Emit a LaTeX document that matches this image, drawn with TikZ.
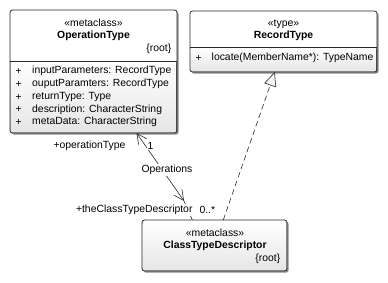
\documentclass[tikz,border=0pt]{standalone}
\usepackage{fontspec}
\setmainfont{Liberation Sans}
\usetikzlibrary{arrows.meta,shadows,positioning}

\definecolor{tricream}{RGB}{252,246,236}
\definecolor{boxedge}{RGB}{40,40,40}

\tikzset{
  umlbox/.style={rectangle, rounded corners=2.5pt, fill=white, inner sep=0pt, outer sep=0pt, anchor=north west,
    drop shadow={shadow xshift=1.6pt, shadow yshift=-1.6pt, fill=black, opacity=0.45}},
  boxline/.style={draw=boxedge, line width=0.8pt, rounded corners=2.5pt},
  sepline/.style={draw=boxedge, line width=0.7pt},
  compfill/.style={top color=white, bottom color=black!10, rounded corners=2pt},
  txt/.style={font=\fontsize{10.4}{12}\selectfont, inner sep=0pt},
  stereo/.style={txt},
  cname/.style={txt, font=\fontsize{10.4}{12}\selectfont\bfseries},
  member/.style={txt, anchor=west},
  endlabel/.style={txt, fill=white, inner sep=0.8pt},
  assoc/.style={draw=boxedge, line width=0.6pt},
  navtip/.tip={Straight Barb[length=10pt,width=10pt]},
  realize/.style={draw=boxedge, line width=0.6pt, dash pattern=on 5.5pt off 3.5pt,
    -{Triangle[length=14pt,width=12.5pt,fill=tricream]}}
}

\begin{document}
\begin{tikzpicture}[x=1pt,y=-1pt]
\useasboundingbox (0,0) rectangle (388,282);

% OperationType
\node[umlbox, minimum width=167pt, minimum height=123pt] (optype) at (10,10) {};
\fill[compfill] (10.4,61) rectangle (176.6,132.6);
\draw[boxline] (optype.north west) rectangle (optype.south east);
\draw[sepline] (10,61) -- (177,61);
\node[stereo] (optype-st) at (93.5,23) {«metaclass»};
\node[cname] (optype-nm) at (93.5,35.5) {OperationType};
\node[txt, anchor=east] (optype-rt) at (171.5,49) {\{root\}};
\node[member] (optype-p1) at (15.5,71) {+};
\node[member] (optype-a1) at (32,71) {inputParameters: RecordType};
\node[member] (optype-p2) at (15.5,84) {+};
\node[member] (optype-a2) at (32,84) {ouputParamters: RecordType};
\node[member] (optype-p3) at (15.5,97) {+};
\node[member] (optype-a3) at (32,97) {returnType: Type};
\node[member] (optype-p4) at (15.5,109.5) {+};
\node[member] (optype-a4) at (32,109.5) {description: CharacterString};
\node[member] (optype-p5) at (15.5,122) {+};
\node[member] (optype-a5) at (32,122) {metaData: CharacterString};

% RecordType
\node[umlbox, minimum width=187pt, minimum height=61pt] (rectype) at (190,11) {};
\fill[compfill] (190.4,47) rectangle (376.6,71.6);
\draw[boxline] (rectype.north west) rectangle (rectype.south east);
\draw[sepline] (190,47) -- (377,47);
\node[stereo] (rectype-st) at (283.5,24) {«type»};
\node[cname] (rectype-nm) at (283.5,36) {RecordType};
\node[member] (rectype-p1) at (195.5,58) {+};
\node[member] (rectype-o1) at (211.5,58) {locate(MemberName*): TypeName};

% ClassTypeDescriptor
\node[umlbox, minimum width=145pt, minimum height=51pt] (ctd) at (142,220) {};
\fill[compfill] (142.4,222) rectangle (286.6,270.6);
\draw[boxline] (ctd.north west) rectangle (ctd.south east);
\node[stereo] (ctd-st) at (215,233) {«metaclass»};
\node[cname] (ctd-nm) at (215,246) {ClassTypeDescriptor};
\node[txt, anchor=east] (ctd-rt) at (280.5,259) {\{root\}};

% Operations association
\coordinate (navmid) at (184,201);
\draw[assoc, navtip-navtip] (optype.-55.3) -- (navmid);
\draw[assoc] (navmid) -- (ctd.131.4);
\node[endlabel] (opname) at (167,170) {Operations};
\node[endlabel, anchor=west] (oprole) at (52.5,146) {+operationType};
\node[endlabel] (opmult) at (150.5,145.5) {1};
\node[endlabel, anchor=east] (ctdrole) at (193.5,210) {+theClassTypeDescriptor};
\node[endlabel, anchor=west] (ctdmult) at (198.5,210) {0..*};

% realization
\draw[realize] (ctd.71.6) -- (rectype.-106.8);
\end{tikzpicture}
\end{document}
